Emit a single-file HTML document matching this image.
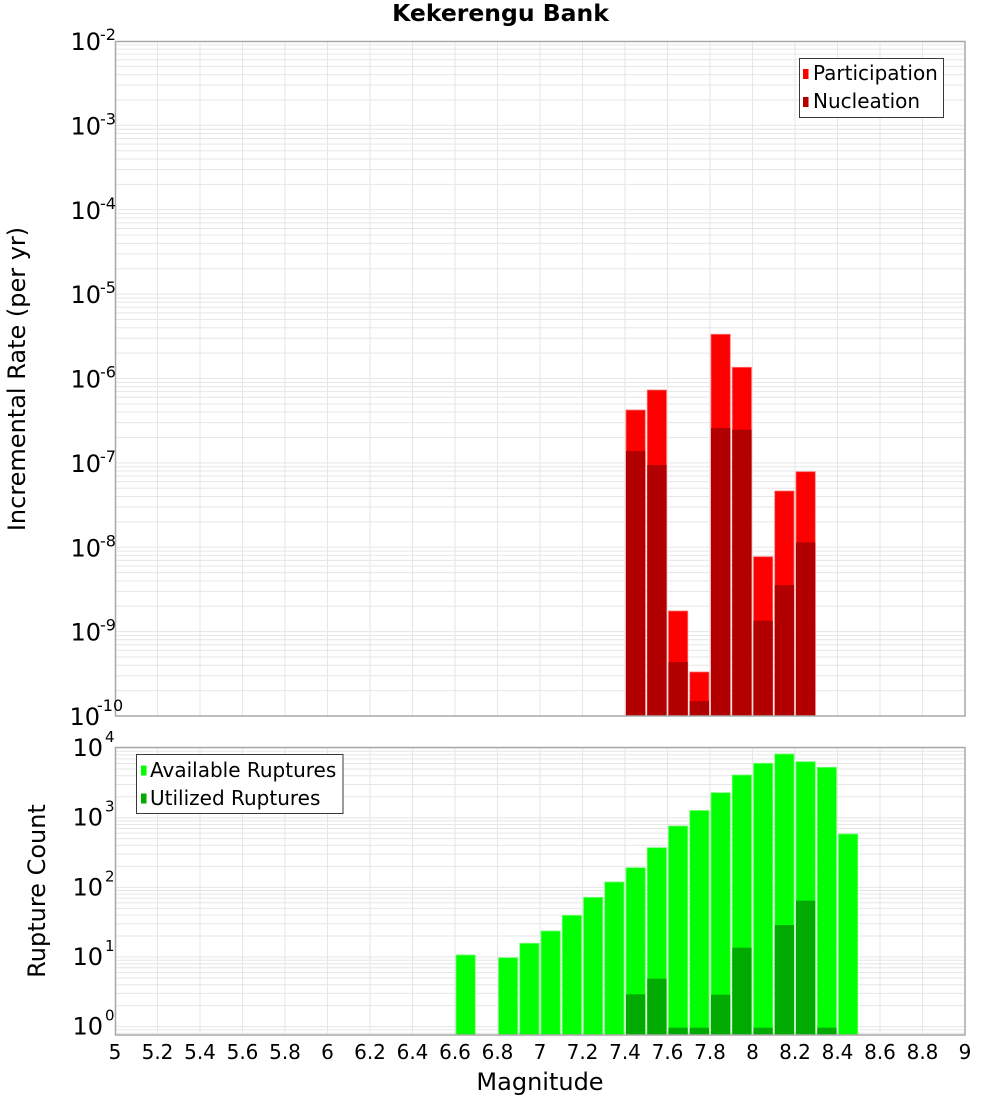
<!DOCTYPE html>
<html><head><meta charset="utf-8"><style>
html,body{margin:0;padding:0;background:#fff;}
svg{display:block;font-family:"DejaVu Sans","Liberation Sans",sans-serif;}
</style></head><body>
<svg width="1000" height="1100" viewBox="0 0 1000 1100" xmlns="http://www.w3.org/2000/svg">
<defs>
<clipPath id="ct"><rect x="115" y="41" width="850" height="675"/></clipPath>
<clipPath id="cb"><rect x="115" y="747" width="850" height="288"/></clipPath>
<g id="gt" stroke="#e6e6e6" stroke-width="1">
<line x1="115" x2="965" y1="0" y2="0"/><line x1="115" x2="965" y1="-25.4" y2="-25.4"/><line x1="115" x2="965" y1="-40.26" y2="-40.26"/><line x1="115" x2="965" y1="-50.8" y2="-50.8"/><line x1="115" x2="965" y1="-58.98" y2="-58.98"/><line x1="115" x2="965" y1="-65.66" y2="-65.66"/><line x1="115" x2="965" y1="-71.31" y2="-71.31"/><line x1="115" x2="965" y1="-76.2" y2="-76.2"/><line x1="115" x2="965" y1="-80.51" y2="-80.51"/>
</g>
<g id="gb" stroke="#e6e6e6" stroke-width="1">
<line x1="115" x2="965" y1="0" y2="0"/><line x1="115" x2="965" y1="-20.97" y2="-20.97"/><line x1="115" x2="965" y1="-33.23" y2="-33.23"/><line x1="115" x2="965" y1="-41.93" y2="-41.93"/><line x1="115" x2="965" y1="-48.68" y2="-48.68"/><line x1="115" x2="965" y1="-54.2" y2="-54.2"/><line x1="115" x2="965" y1="-58.86" y2="-58.86"/><line x1="115" x2="965" y1="-62.9" y2="-62.9"/><line x1="115" x2="965" y1="-66.46" y2="-66.46"/>
</g>
<g id="vg" stroke="#e6e6e6" stroke-width="1">
<line x1="157.5" x2="157.5" y1="0" y2="1100"/><line x1="200" x2="200" y1="0" y2="1100"/><line x1="242.5" x2="242.5" y1="0" y2="1100"/><line x1="285" x2="285" y1="0" y2="1100"/><line x1="327.5" x2="327.5" y1="0" y2="1100"/><line x1="370" x2="370" y1="0" y2="1100"/><line x1="412.5" x2="412.5" y1="0" y2="1100"/><line x1="455" x2="455" y1="0" y2="1100"/><line x1="497.5" x2="497.5" y1="0" y2="1100"/><line x1="540" x2="540" y1="0" y2="1100"/><line x1="582.5" x2="582.5" y1="0" y2="1100"/><line x1="625" x2="625" y1="0" y2="1100"/><line x1="667.5" x2="667.5" y1="0" y2="1100"/><line x1="710" x2="710" y1="0" y2="1100"/><line x1="752.5" x2="752.5" y1="0" y2="1100"/><line x1="795" x2="795" y1="0" y2="1100"/><line x1="837.5" x2="837.5" y1="0" y2="1100"/><line x1="880" x2="880" y1="0" y2="1100"/><line x1="922.5" x2="922.5" y1="0" y2="1100"/>
</g>
</defs>

<!-- Title -->
<text x="500.5" y="21" font-size="23.5" font-weight="bold" text-anchor="middle">Kekerengu Bank</text>

<!-- TOP PLOT -->
<g clip-path="url(#ct)">
<use href="#vg"/>
<line x1="115" x2="965" y1="41" y2="41" stroke="#e6e6e6"/>
<use href="#gt" transform="translate(0,125.375)"/>
<use href="#gt" transform="translate(0,209.75)"/>
<use href="#gt" transform="translate(0,294.125)"/>
<use href="#gt" transform="translate(0,378.5)"/>
<use href="#gt" transform="translate(0,462.875)"/>
<use href="#gt" transform="translate(0,547.25)"/>
<use href="#gt" transform="translate(0,631.625)"/>
<use href="#gt" transform="translate(0,716)"/>
<g fill="#ff0000" stroke="#ff7070" stroke-width="0.8">
<rect x="626" y="410" width="19.25" height="306"/>
<rect x="647.25" y="390" width="19.25" height="326"/>
<rect x="668.5" y="611" width="19.25" height="105"/>
<rect x="689.75" y="672" width="19.25" height="44"/>
<rect x="711" y="334.3" width="19.25" height="381.7"/>
<rect x="732.25" y="367.3" width="19.25" height="348.7"/>
<rect x="753.5" y="556.7" width="19.25" height="159.3"/>
<rect x="774.75" y="491" width="19.25" height="225"/>
<rect x="796" y="471.7" width="19.25" height="244.3"/>
</g>
<g fill="#b20000">
<rect x="626" y="451" width="19.25" height="265"/>
<rect x="647.25" y="465" width="19.25" height="251"/>
<rect x="668.5" y="662" width="19.25" height="54"/>
<rect x="689.75" y="701" width="19.25" height="15"/>
<rect x="711" y="428" width="19.25" height="288"/>
<rect x="732.25" y="429.7" width="19.25" height="286.3"/>
<rect x="753.5" y="620.7" width="19.25" height="95.3"/>
<rect x="774.75" y="585" width="19.25" height="131"/>
<rect x="796" y="542.3" width="19.25" height="173.7"/>
</g>
</g>
<rect x="115.5" y="41.5" width="849.5" height="674.5" fill="none" stroke="#a8a8a8" stroke-width="1.5"/>

<!-- top legend -->
<rect x="799.5" y="58.5" width="144" height="59" fill="#fff" stroke="#383838" stroke-width="1"/>
<rect x="803" y="69" width="5.5" height="10" fill="#ff0000"/>
<rect x="803" y="97" width="5.5" height="10" fill="#b20000"/>
<text x="813" y="80" font-size="20">Participation</text>
<text x="813" y="108" font-size="20">Nucleation</text>

<!-- top y ticks -->
<g font-size="24" text-anchor="end">
<text x="101" y="50">10</text>
<text x="101" y="134.4">10</text>
<text x="101" y="218.75">10</text>
<text x="101" y="303.1">10</text>
<text x="101" y="387.5">10</text>
<text x="101" y="471.9">10</text>
<text x="101" y="556.25">10</text>
<text x="101" y="640.6">10</text>
<text x="100" y="725">10</text>
</g>
<g font-size="16">
<text x="100" y="40">-2</text>
<text x="100" y="124.4">-3</text>
<text x="100" y="208.75">-4</text>
<text x="100" y="293.1">-5</text>
<text x="100" y="377.5">-6</text>
<text x="100" y="461.9">-7</text>
<text x="100" y="546.25">-8</text>
<text x="100" y="630.6">-9</text>
<text x="97" y="711">-10</text>
</g>
<text transform="translate(25,379) rotate(-90)" font-size="24" text-anchor="middle">Incremental Rate (per yr)</text>

<!-- BOTTOM PLOT -->
<g clip-path="url(#cb)">
<use href="#vg"/>
<use href="#gb" transform="translate(0,1096.3)"/>
<use href="#gb" transform="translate(0,1026.65)"/>
<use href="#gb" transform="translate(0,957)"/>
<use href="#gb" transform="translate(0,887.35)"/>
<use href="#gb" transform="translate(0,817.7)"/>
<use href="#gb" transform="translate(0,748.05)"/>
<g fill="#00ff00" stroke="#70ff70" stroke-width="0.8">
<rect x="456" y="955" width="19.25" height="80"/>
<rect x="498.5" y="957.7" width="19.25" height="77.3"/>
<rect x="519.75" y="943.3" width="19.25" height="91.7"/>
<rect x="541" y="931" width="19.25" height="104"/>
<rect x="562.25" y="915.3" width="19.25" height="119.7"/>
<rect x="583.5" y="897.3" width="19.25" height="137.7"/>
<rect x="604.75" y="882" width="19.25" height="153"/>
<rect x="626" y="867.7" width="19.25" height="167.3"/>
<rect x="647.25" y="847.7" width="19.25" height="187.3"/>
<rect x="668.5" y="826" width="19.25" height="209"/>
<rect x="689.75" y="810.5" width="19.25" height="224.5"/>
<rect x="711" y="792.7" width="19.25" height="242.3"/>
<rect x="732.25" y="775" width="19.25" height="260"/>
<rect x="753.5" y="763.3" width="19.25" height="271.7"/>
<rect x="774.75" y="754" width="19.25" height="281"/>
<rect x="796" y="761.7" width="19.25" height="273.3"/>
<rect x="817.25" y="767.3" width="19.25" height="267.7"/>
<rect x="838.5" y="834" width="19.25" height="201"/>
</g>
<g fill="#00aa00">
<rect x="626" y="994.3" width="19.25" height="40.7"/>
<rect x="647.25" y="978.7" width="19.25" height="56.3"/>
<rect x="668.5" y="1027.7" width="19.25" height="7.3"/>
<rect x="689.75" y="1027.7" width="19.25" height="7.3"/>
<rect x="711" y="994.7" width="19.25" height="40.3"/>
<rect x="732.25" y="947.7" width="19.25" height="87.3"/>
<rect x="753.5" y="1027.7" width="19.25" height="7.3"/>
<rect x="774.75" y="925" width="19.25" height="110"/>
<rect x="796" y="900.7" width="19.25" height="134.3"/>
<rect x="817.25" y="1027.7" width="19.25" height="7.3"/>
</g>
</g>
<rect x="115.5" y="747.5" width="849.5" height="287.5" fill="none" stroke="#a8a8a8" stroke-width="1.5"/>

<!-- bottom legend -->
<rect x="136.5" y="754.5" width="206.5" height="59" fill="#fff" stroke="#383838" stroke-width="1"/>
<rect x="141" y="765.5" width="5.5" height="10" fill="#00ff00"/>
<rect x="141" y="793.5" width="5.5" height="10" fill="#00aa00"/>
<text x="150" y="777" font-size="20">Available Ruptures</text>
<text x="150" y="805" font-size="20">Utilized Ruptures</text>

<!-- bottom y ticks -->
<g font-size="24" text-anchor="end">
<text x="103" y="756">10</text>
<text x="103" y="825.7">10</text>
<text x="103" y="895.35">10</text>
<text x="103" y="965">10</text>
<text x="103" y="1034.65">10</text>
</g>
<g font-size="15">
<text x="105" y="742">4</text>
<text x="105" y="811.7">3</text>
<text x="105" y="881.35">2</text>
<text x="105" y="951">1</text>
<text x="105" y="1020.65">0</text>
</g>
<text transform="translate(45,891) rotate(-90)" font-size="24" text-anchor="middle">Rupture Count</text>

<!-- x ticks -->
<g font-size="20" text-anchor="middle">
<text x="115" y="1059">5</text>
<text x="157.5" y="1059">5.2</text>
<text x="200" y="1059">5.4</text>
<text x="242.5" y="1059">5.6</text>
<text x="285" y="1059">5.8</text>
<text x="327.5" y="1059">6</text>
<text x="370" y="1059">6.2</text>
<text x="412.5" y="1059">6.4</text>
<text x="455" y="1059">6.6</text>
<text x="497.5" y="1059">6.8</text>
<text x="540" y="1059">7</text>
<text x="582.5" y="1059">7.2</text>
<text x="625" y="1059">7.4</text>
<text x="667.5" y="1059">7.6</text>
<text x="710" y="1059">7.8</text>
<text x="752.5" y="1059">8</text>
<text x="795" y="1059">8.2</text>
<text x="837.5" y="1059">8.4</text>
<text x="880" y="1059">8.6</text>
<text x="922.5" y="1059">8.8</text>
<text x="965" y="1059">9</text>
</g>
<text x="540" y="1090" font-size="24" text-anchor="middle">Magnitude</text>
</svg>
</body></html>
